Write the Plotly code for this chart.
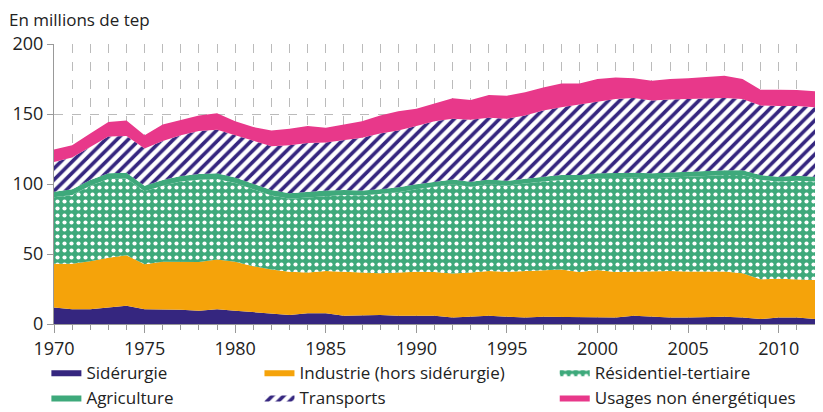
import plotly.graph_objects as go

years = list(range(1970, 2013))

siderurgie = [11.8, 10.6, 10.6, 11.8, 13.0, 10.6, 10.6, 10.2, 9.5, 10.6,
              9.5, 8.3, 7.1, 6.4, 7.6, 7.6, 5.9, 6.4, 6.4, 5.9,
              5.9, 5.9, 4.7, 5.2, 5.9, 5.2, 4.7, 5.2, 5.2, 4.7,
              5.2, 4.7, 5.9, 5.2, 4.7, 4.7, 5.2, 5.2, 4.7, 3.5,
              4.7, 4.7, 3.5]
industrie = [31.2, 32.4, 34.3, 35.5, 36.1, 32.0, 33.9, 34.0, 34.7, 35.5,
             35.0, 33.0, 31.9, 31.0, 29.1, 30.2, 31.1, 30.3, 29.8, 30.8,
             31.5, 31.2, 31.3, 31.5, 31.9, 32.1, 33.1, 33.3, 33.8, 32.4,
             33.3, 32.4, 31.6, 32.3, 33.1, 32.8, 32.3, 32.3, 31.5, 28.4,
             27.7, 27.2, 27.9]
residentiel = [47.5, 49.2, 53.9, 56.3, 54.9, 52.2, 54.3, 57.5, 58.9, 57.5,
               56.2, 54.7, 52.7, 52.0, 53.8, 53.5, 55.2, 55.1, 56.5, 57.4,
               58.9, 61.0, 63.8, 61.4, 62.0, 61.5, 62.7, 63.2, 63.9, 65.8,
               65.6, 67.4, 67.0, 66.6, 66.7, 67.7, 68.2, 68.9, 70.2, 71.0,
               69.3, 70.5, 70.3]
agriculture = [4.0, 4.0, 4.0, 4.0, 4.0, 4.0, 4.0, 4.0, 4.0, 4.0,
               4.0, 4.0, 4.0, 4.0, 4.0, 4.0, 3.5, 3.5, 3.5, 3.5,
               3.5, 3.5, 3.5, 3.5, 3.5, 3.5, 3.5, 3.5, 3.5, 3.5,
               3.5, 3.5, 3.5, 3.5, 3.5, 3.5, 3.5, 3.5, 3.5, 3.5,
               3.5, 3.5, 3.5]
transports = [21.3, 22.7, 23.7, 26.4, 26.3, 26.5, 27.9, 29.1, 30.7, 31.2,
              30.1, 30.7, 31.3, 34.3, 34.8, 34.3, 35.5, 37.8, 39.8, 40.7,
              41.7, 43.3, 43.3, 44.3, 44.0, 44.3, 44.9, 47.3, 48.4, 50.3,
              51.5, 52.8, 53.5, 52.0, 52.3, 52.1, 52.3, 51.6, 50.9, 49.6,
              50.6, 49.9, 49.6]
usages = [8.8, 8.8, 9.5, 10.2, 11.1, 9.5, 11.8, 11.2, 11.2, 11.8,
          10.1, 10.0, 11.3, 11.8, 12.1, 10.6, 11.3, 11.8, 13.0, 13.7,
          12.2, 12.3, 14.6, 14.1, 16.3, 16.5, 16.6, 16.5, 17.0, 15.1,
          15.9, 15.3, 14.1, 14.2, 14.7, 14.8, 15.1, 15.8, 14.2, 11.4,
          11.6, 11.3, 11.4]

NAVY = '#35267f'
ORANGE = '#f5a30a'
GREEN = '#3ea97b'
PINK = '#e8388a'

font = 'Open Sans, sans-serif'

fig = go.Figure()

def add_area(name, values, color, legend, pattern=None):
    fig.add_trace(go.Scatter(
        x=years, y=values, name=name, mode='lines', stackgroup='one',
        line=dict(width=0, color=color), fillcolor=color,
        fillpattern=pattern, legend=legend, hoverinfo='x+y+name'))

add_area('Sidérurgie', siderurgie, NAVY, 'legend')
add_area('Industrie (hors sidérurgie)', industrie, ORANGE, 'legend2')
add_area('Résidentiel-tertiaire', residentiel, GREEN, 'legend3',
         dict(shape='.', fgcolor='white', fgopacity=1, bgcolor=GREEN,
              size=7, solidity=0.28))
add_area('Agriculture', agriculture, GREEN, 'legend')
add_area('Transports', transports, 'white', 'legend2',
         dict(shape='/', fgcolor=NAVY, fgopacity=1, bgcolor='white',
              size=8, solidity=0.45))
add_area('Usages non énergétiques', usages, PINK, 'legend3')

leg = dict(orientation='v', yanchor='top', y=-0.11, xanchor='left',
           font=dict(family=font, size=17, color='#222'),
           bgcolor='rgba(0,0,0,0)', tracegroupgap=0, itemwidth=30,
           traceorder='normal')

# figure kept 8px smaller than the window so the page does not overflow
fig.update_layout(
    width=815, height=404,
    margin=dict(l=46, r=8, t=36, b=88, autoexpand=False),
    plot_bgcolor='white', paper_bgcolor='white',
    font=dict(family=font, size=17, color='#222'),
    showlegend=True,
    legend=dict(leg, x=-0.01),
    legend2=dict(leg, x=0.27),
    legend3=dict(leg, x=0.658),
    annotations=[dict(text='En millions de tep', xref='paper', yref='paper',
                      x=-0.062, y=1.038, xanchor='left', yanchor='bottom',
                      showarrow=False, font=dict(family=font, size=17, color='#222'))],
)

fig.update_xaxes(
    range=[1970, 2012], tickmode='linear', tick0=1970, dtick=5,
    ticks='outside', ticklen=8, tickcolor='#999', tickwidth=1,
    showline=True, linecolor='#999', linewidth=1,
    showgrid=True, gridcolor='#bbb', griddash='dash', gridwidth=1,
    minor=dict(dtick=1, ticks='outside', ticklen=5, tickcolor='#999',
               showgrid=True, gridcolor='#bbb', griddash='dash'),
    tickfont=dict(family=font, size=18, color='#222'),
    zeroline=False, fixedrange=True)

fig.update_yaxes(
    range=[0, 200], tickmode='linear', tick0=0, dtick=50,
    ticks='outside', ticklen=6, tickcolor='#999',
    showline=True, linecolor='#999', linewidth=1, mirror=True,
    showgrid=True, gridcolor='#bbb', griddash='dash',
    tickfont=dict(family=font, size=18, color='#222'),
    zeroline=False, fixedrange=True)

fig.write_html('out.html')
